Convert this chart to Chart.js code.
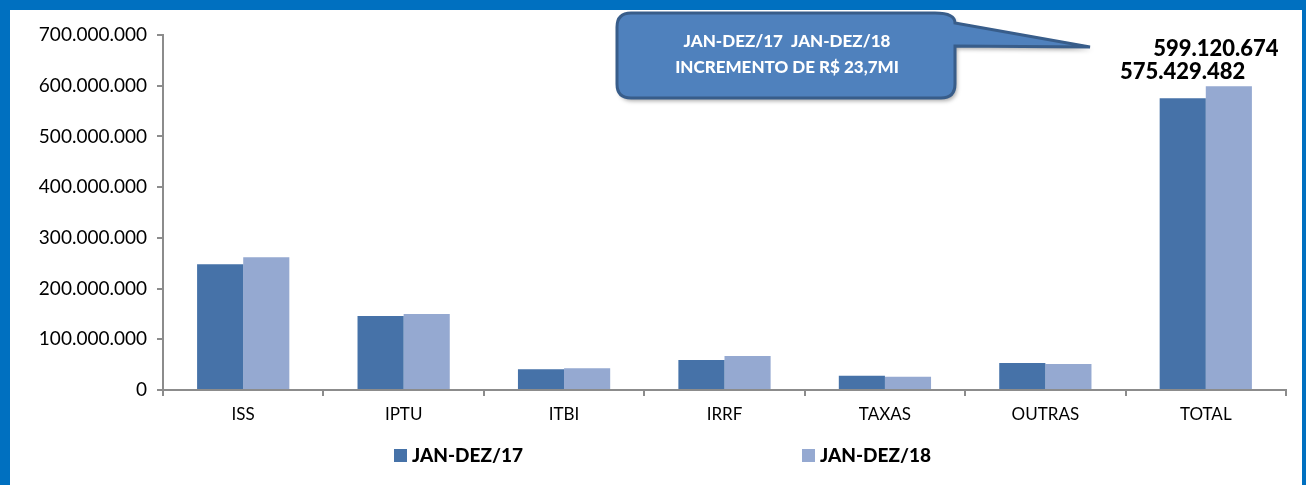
<!DOCTYPE html>
<html>
<head>
<meta charset="utf-8">
<script src="https://cdn.jsdelivr.net/npm/chart.js@4"></script>
<style>
  html, body { margin: 0; padding: 0; background: #fff; }
  #frame {
    width: 1292px; height: 475px;
    border-top: 10px solid #0070C0;
    border-left: 10px solid #0070C0;
    border-right: 4px solid #0070C0;
    background: #fff;
  }
  #grafico { display: block; }
</style>
</head>
<body>
<div id="frame">
  <canvas id="grafico" width="1292" height="475"></canvas>
</div>
<script>
// dados
var categorias = ['ISS', 'IPTU', 'ITBI', 'IRRF', 'TAXAS', 'OUTRAS', 'TOTAL'];
var jandez17 = [248000000, 146000000, 41000000, 59000000, 28000000, 53429482, 575429482];
var jandez18 = [262000000, 150000000, 43000000, 67000000, 26000000, 51120674, 599120674];
var serieNomes = ['JAN-DEZ/17', 'JAN-DEZ/18'];
var yTicks = [0, 100000000, 200000000, 300000000, 400000000, 500000000, 600000000, 700000000];
var calloutLinhas = ['JAN-DEZ/17  JAN-DEZ/18', 'INCREMENTO DE R$ 23,7MI'];

var cor17 = '#4672A8';
var cor18 = '#95A9D1';
var fonte = 'Lato, "Open Sans", sans-serif';

function formata(v) {
  return String(Math.round(v)).replace(/\B(?=(\d{3})+(?!\d))/g, '.');
}

// rotulos so no TOTAL
var rotulosTotal = {
  id: 'rotulosTotal',
  afterDatasetsDraw: function(chart) {
    var ctx = chart.ctx;
    var last = categorias.length - 1;
    var offs = [{dx: 0, dy: 26}, {dx: -13, dy: 37}];
    ctx.save();
    ctx.font = '900 22px ' + fonte;
    ctx.fillStyle = '#000';
    ctx.textAlign = 'center';
    ctx.textBaseline = 'middle';
    chart.data.datasets.forEach(function(ds, i) {
      var bar = chart.getDatasetMeta(i).data[last];
      ctx.fillText(formata(ds.data[last]), bar.x + offs[i].dx, bar.y - offs[i].dy);
    });
    ctx.restore();
  }
};

// balao de texto
var balao = {
  id: 'balao',
  afterDraw: function(chart) {
    var ctx = chart.ctx;
    var x = 607, y = 3, w = 338, h = 85, r = 14;
    ctx.save();
    ctx.shadowColor = 'rgba(0,0,0,0.35)';
    ctx.shadowBlur = 4;
    ctx.shadowOffsetX = 2;
    ctx.shadowOffsetY = 3;
    ctx.beginPath();
    ctx.moveTo(x + r, y);
    ctx.lineTo(x + w - 20, y);
    ctx.quadraticCurveTo(x + w, y, x + w, y + 10);
    ctx.lineTo(1080, 37);
    ctx.lineTo(x + w, y + 33);
    ctx.lineTo(x + w, y + h - r);
    ctx.quadraticCurveTo(x + w, y + h, x + w - r, y + h);
    ctx.lineTo(x + r, y + h);
    ctx.quadraticCurveTo(x, y + h, x, y + h - r);
    ctx.lineTo(x, y + r);
    ctx.quadraticCurveTo(x, y, x + r, y);
    ctx.closePath();
    ctx.fillStyle = '#4F81BD';
    ctx.fill();
    ctx.shadowColor = 'transparent';
    ctx.lineWidth = 3;
    ctx.strokeStyle = '#385D8A';
    ctx.stroke();
    ctx.fillStyle = '#fff';
    ctx.font = '900 17px ' + fonte;
    ctx.textAlign = 'center';
    ctx.textBaseline = 'middle';
    ctx.fillText(calloutLinhas[0], 777, 32);
    ctx.fillText(calloutLinhas[1], 777, 58);
    ctx.restore();
  }
};

// legenda desenhada a mao (itens bem espacados como no excel)
var legenda = {
  id: 'legenda',
  afterDraw: function(chart) {
    var ctx = chart.ctx;
    var xs = [384, 792];
    var yc = 445;
    ctx.save();
    ctx.font = '900 19px ' + fonte;
    ctx.textBaseline = 'middle';
    ctx.textAlign = 'left';
    chart.data.datasets.forEach(function(ds, i) {
      ctx.fillStyle = ds.backgroundColor;
      ctx.fillRect(xs[i], yc - 6, 13, 13);
      ctx.fillStyle = '#000';
      ctx.fillText(ds.label, xs[i] + 18, yc + 1);
    });
    ctx.restore();
  }
};

var ctx = document.getElementById('grafico').getContext('2d');
var grafico = new Chart(ctx, {
  type: 'bar',
  data: {
    labels: categorias,
    datasets: [{
      label: serieNomes[0],
      data: jandez17,
      backgroundColor: cor17,
      borderColor: cor17,
      borderWidth: 0
    }, {
      label: serieNomes[1],
      data: jandez18,
      backgroundColor: cor18,
      borderColor: cor18,
      borderWidth: 0
    }]
  },
  options: {
    responsive: false,
    animation: false,
    layout: { padding: { top: 25, right: 16, bottom: 50, left: 0 } },
    datasets: {
      bar: { categoryPercentage: 0.575, barPercentage: 1.0 }
    },
    plugins: {
      legend: { display: false },
      tooltip: { enabled: false }
    },
    scales: {
      x: {
        grid: { display: true, drawOnChartArea: false, drawTicks: true, tickLength: 6, color: '#8c8c8c', lineWidth: 2, offset: true },
        border: { display: true, color: '#8c8c8c', width: 2 },
        ticks: { color: '#000', font: { family: fonte, size: 17 }, padding: 8, maxRotation: 0 },
        afterFit: function(s) { s.height = 45; }
      },
      y: {
        min: 0,
        max: 700000000,
        afterBuildTicks: function(s) { s.ticks = yTicks.map(function(v) { return { value: v }; }); },
        grid: { display: true, drawOnChartArea: false, drawTicks: true, tickLength: 6, color: '#8c8c8c', lineWidth: 2 },
        border: { display: true, color: '#8c8c8c', width: 2 },
        ticks: {
          color: '#000',
          font: { family: fonte, size: 19 },
          padding: 10,
          callback: function(v) { return formata(v); }
        },
        afterFit: function(s) { s.width = 153; }
      }
    }
  },
  plugins: [rotulosTotal, balao, legenda]
});
</script>
</body>
</html>
